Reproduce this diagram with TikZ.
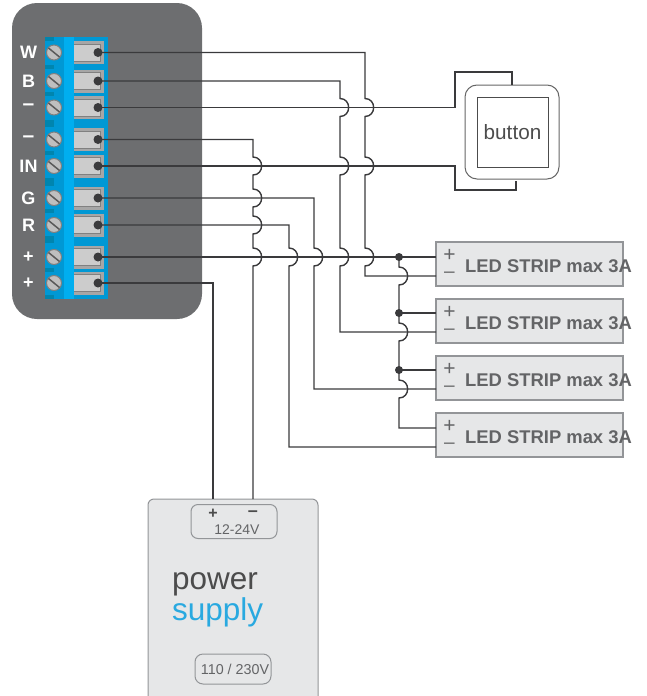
\documentclass[tikz,border=0pt]{standalone}
\usepackage{fontspec}
\setmainfont{Liberation Sans}
\definecolor{panelgray}{HTML}{6D6E70}
\definecolor{stripblue}{HTML}{0098D4}
\definecolor{stripdark}{HTML}{0085AE}
\definecolor{striplight}{HTML}{00AEEF}
\definecolor{boxfill}{HTML}{E6E7E8}
\definecolor{boxline}{HTML}{939598}
\definecolor{wirecol}{HTML}{3A3A3C}
\definecolor{labelgray}{HTML}{636466}
\definecolor{supplyblue}{HTML}{29A9E0}
\newcommand{\hop}[2]{-- (#1,#2-9) .. controls (#1+11.5,#2-9) and (#1+11.5,#2+9) .. (#1,#2+9)}
\newcommand{\termminus}{\fontsize{21}{17}\selectfont--}
\tikzset{
  wire/.style={draw=wirecol,line width=1.4pt,line join=miter},
  termdot/.style={circle,fill=wirecol,inner sep=0pt,minimum size=9pt},
  junction/.style={circle,fill=wirecol,inner sep=0pt,minimum size=8pt},
  termlabel/.style={text=white,inner sep=0pt,font=\fontsize{18}{18}\selectfont\bfseries},
  ledbox/.style={draw=boxline,fill=boxfill,line width=1.5pt,minimum width=187pt,minimum height=44pt,inner sep=0pt,outer sep=0pt},
  ledtext/.style={text=labelgray,anchor=base west,inner sep=0pt,font=\fontsize{18.4}{18.4}\selectfont\bfseries},
  ledplus/.style={text=labelgray,inner sep=0pt,font=\fontsize{21}{21}\selectfont},
  ledminus/.style={text=labelgray,inner sep=0pt,font=\fontsize{19}{19}\selectfont},
  softbox/.style={draw=boxline,line width=1pt,inner sep=0pt,outer sep=0pt}
}
\begin{document}
\begin{tikzpicture}[x=1pt,y=-1pt]
  \clip[use as bounding box] (0,0) rectangle (647,696);
  \fill [panelgray,rounded corners=25pt] (12,3) rectangle (202,319);
  \fill [stripblue] (45,37) rectangle (108,299);
  \fill [striplight] (63.5,37) rectangle (74,299);
  \foreach \ya/\yb in {37/41,65/69,92/96,120/127,151/155,178/186,209/213,236/243,268/272,295/299}
    \fill [stripdark] (45,\ya) rectangle (54,\yb);
  \foreach \y/\lab/\nm in {52.5/W/W,81/B/B,107.5/\termminus/Ma,139.5/\termminus/Mb,166/IN/IN,198/G/G,225/R/R,257/+/Pa,283/+/Pb} {
    \draw [fill=black!35,draw=none] (74,\y-11.5) rectangle (104,\y+11.5);
    \draw [fill=black!20,draw=black!50,line width=1pt] (74,\y-8.5) -- (100.5,\y-8.5) -- (100.5,\y+8.5) -- (74,\y+8.5);
    \draw [fill=black!25,draw=black!50,line width=1pt] (54,\y) circle (7.5);
    \draw [black!65,line width=1.5pt] (48.5,\y-4.5) -- (59.5,\y+4.5);
    \node [termlabel] (lab\nm) at (28.5,\y) {\lab};
    \node [termdot] (t\nm) at (98,\y) {};
  }
  \foreach \nm/\ytop/\p/\m in {A/242/15/34,B/299/14/33,C/356/14/33,D/413/15/34} {
    \node [ledbox] (led\nm) at (529.5,\ytop+22) {};
    \coordinate (led\nm p) at (436,\ytop+\p);
    \coordinate (led\nm m) at (436,\ytop+\m);
    \node [ledplus] (plus\nm) at (449.5,\ytop+13.5) {+};
    \node [ledminus] (minus\nm) at (449.5,\ytop+33) {--};
    \node [ledtext] (text\nm) at (465,\ytop+30.5) {LED STRIP max 3A};
  }
  \node [junction] (jA) at (399,257) {};
  \node [junction] (jB) at (399,313) {};
  \node [junction] (jC) at (399,370) {};
  \node [softbox,draw=black!60,rounded corners=12pt,minimum size=94pt] (btn) at (512,132) {};
  \node [softbox,draw=black!70,minimum width=71pt,minimum height=70pt,text=black!70,font=\fontsize{20.7}{20.7}\selectfont] (btnin) at (512.5,132) {button};
  \node [softbox,fill=boxfill,rounded corners=6pt,minimum width=170pt,minimum height=209pt] (psu) at (233,603.5) {};
  \node [softbox,rounded corners=7pt,minimum width=86pt,minimum height=34pt] (dcbox) at (234,521.5) {};
  \node [softbox,rounded corners=8pt,minimum width=76pt,minimum height=30pt] (acbox) at (233,669) {};
  \node [text=black!70,inner sep=0pt,font=\fontsize{16}{16}\selectfont\bfseries] (pplus) at (213,514) {+};
  \node [text=black!70,inner sep=0pt,font=\fontsize{18}{16}\selectfont\bfseries] (pminus) at (253,514) {--};
  \node [text=labelgray,inner sep=0pt,font=\fontsize{14}{14}\selectfont] (dctext) at (237,530) {12-24V};
  \node [text=labelgray,inner sep=0pt,font=\fontsize{14.3}{14.3}\selectfont] (actext) at (235,669.5) {110 / 230V};
  \node [text=black!70,anchor=base west,inner sep=0pt,font=\fontsize{31.5}{31.5}\selectfont] (power) at (172,589) {power};
  \node [text=supplyblue,anchor=base west,inner sep=0pt,font=\fontsize{31.5}{31.5}\selectfont] (supply) at (172,620.5) {supply};
  \draw [wire] (tW.center) -- (365,52.5) \hop{365}{107.5} \hop{365}{166} \hop{365}{257} -- (365,276) -- (ledAm);
  \draw [wire] (tB.center) -- (340,81) \hop{340}{107.5} \hop{340}{166} \hop{340}{257} -- (340,332) -- (ledBm);
  \draw [wire] (tMa.center) -- (455,107.5) -- (455,72) -- (btn.north |- 0,72) -- (btn.north);
  \draw [wire] (tIN.center) -- (455,166) -- (455,190) -- (516,190) -- ([xshift=4pt,yshift=-2pt]btn.south);
  \draw [wire] (tMb.center) -- (253,139.5) \hop{253}{166} \hop{253}{198} \hop{253}{225} \hop{253}{257} -- (pminus |- psu.north);
  \draw [wire] (tG.center) -- (314,198) \hop{314}{257} -- (314,389) -- (ledCm);
  \draw [wire] (tR.center) -- (289,225) \hop{289}{257} -- (289,447) -- (ledDm);
  \draw [wire] (tPa.center) -- (ledAp);
  \draw [wire] (tPb.center) -- (213,283) -- (pplus |- psu.north);
  \draw [wire] (jA.center) \hop{399}{276} -- (jB.center) \hop{399}{332} -- (jC.center) \hop{399}{389} -- (399,428) -- (ledDp);
  \draw [wire] (jB.center) -- (ledBp);
  \draw [wire] (jC.center) -- (ledCp);
\end{tikzpicture}
\end{document}
